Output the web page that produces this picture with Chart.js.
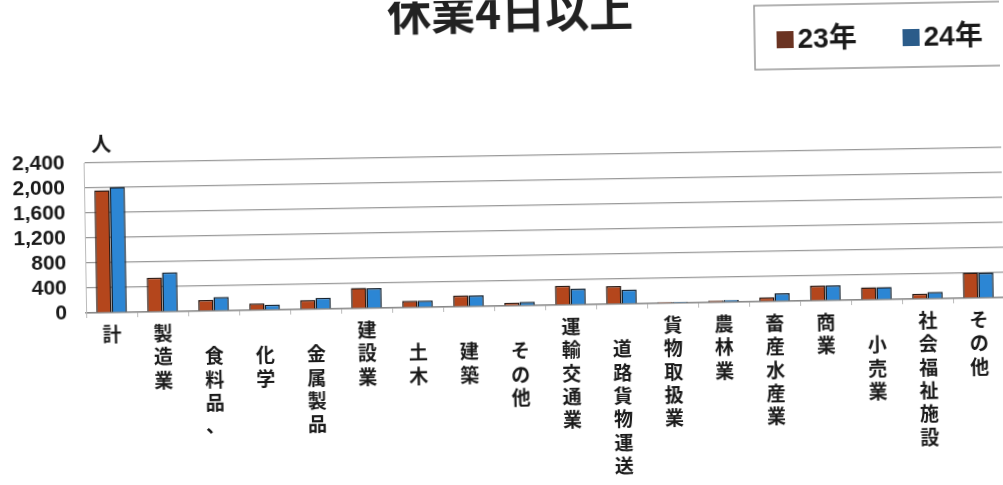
<!DOCTYPE html>
<html>
<head>
<meta charset="utf-8">
<script src="https://cdn.jsdelivr.net/npm/chart.js@4.4.1/dist/chart.umd.min.js"></script>
<style>
  html, body { margin: 0; padding: 0; background: #fff; overflow: hidden; }
  #chart { display: block; transform: rotate(-0.97deg); transform-origin: 50% 50%; }
</style>
</head>
<body>
<canvas id="chart" width="1003" height="485"></canvas>
<script>
// data
var categories = ['計', '製造業', '食料品、', '化学', '金属製品', '建設業', '土木', '建築', 'その他',
    '運輸交通業', '道路貨物運送', '貨物取扱業', '農林業', '畜産水産業', '商業', '小売業', '社会福祉施設', 'その他'];
// sub items (indented one line down in the original)
var subItems = [2, 3, 4, 6, 7, 8, 10, 15];
var y23 = [1960, 550, 175, 110, 150, 330, 110, 180, 50, 310, 290, 20, 30, 70, 240, 200, 85, 410];
var y24 = [2010, 630, 220, 85, 180, 320, 110, 175, 60, 255, 230, 20, 35, 130, 240, 200, 110, 400];
var yTicks = [0, 400, 800, 1200, 1600, 2000, 2400];

// vertical labels: one char per line
var labels = categories.map(function (c, i) {
    var chars = Array.from(c);
    return subItems.indexOf(i) >= 0 ? [''].concat(chars) : chars;
});

var decor = {
    id: 'decor',
    afterDraw: function (chart) {
        var ctx = chart.ctx;
        ctx.save();
        // title (top is cut off in the scan)
        ctx.fillStyle = '#222';
        ctx.font = 'bold 44px "Noto Sans CJK JP"';
        ctx.textAlign = 'center';
        ctx.textBaseline = 'alphabetic';
        ctx.fillText('休業4日以上', 514, 29);

        // legend box
        ctx.strokeStyle = '#999';
        ctx.lineWidth = 1.5;
        ctx.strokeRect(758, 10, 270, 64);
        ctx.fillStyle = '#6a3322';
        ctx.fillRect(780, 36, 17, 17);
        ctx.fillStyle = '#2b5c8a';
        ctx.fillRect(906, 36, 17, 17);
        ctx.fillStyle = '#1a1a1a';
        ctx.font = 'bold 28px "Liberation Sans", "Noto Sans CJK JP"';
        ctx.textAlign = 'left';
        ctx.textBaseline = 'middle';
        ctx.fillText('23年', 801, 45);
        ctx.fillText('24年', 927, 45);

        // unit
        ctx.font = 'bold 20px "Noto Sans CJK JP"';
        ctx.textAlign = 'center';
        ctx.fillText('人', 103, 137);
        ctx.restore();
    }
};

new Chart(document.getElementById('chart'), {
    type: 'bar',
    data: {
        labels: labels,
        datasets: [
            {
                label: '23年',
                data: y23,
                backgroundColor: '#b4461c',
                borderColor: '#2a1a14',
                borderWidth: 1.5
            },
            {
                label: '24年',
                data: y24,
                backgroundColor: '#2c86d4',
                borderColor: '#14202c',
                borderWidth: 1.5
            }
        ]
    },
    options: {
        responsive: false,
        animation: false,
        layout: { padding: { top: 156, left: 0, right: 0, bottom: 0 } },
        datasets: { bar: { categoryPercentage: 0.6, barPercentage: 1.0 } },
        plugins: {
            legend: { display: false },
            title: { display: false },
            tooltip: { enabled: false }
        },
        scales: {
            x: {
                offset: true,
                grid: {
                    offset: true,
                    drawOnChartArea: false,
                    drawTicks: true,
                    tickLength: 5,
                    color: '#bbb'
                },
                border: { color: '#888', width: 1.5 },
                ticks: {
                    maxRotation: 0,
                    minRotation: 0,
                    autoSkip: false,
                    padding: 5,
                    color: '#1a1a1a',
                    font: { family: '"Noto Sans CJK JP"', size: 19, weight: 'bold', lineHeight: 1.23 }
                },
                afterFit: function (s) { s.height = 179; }
            },
            y: {
                min: 0,
                max: 2400,
                afterBuildTicks: function (s) {
                    s.ticks = yTicks.map(function (v) { return { value: v }; });
                },
                grid: { color: '#999', lineWidth: 1.2, drawTicks: false },
                border: { color: '#bbb' },
                ticks: {
                    autoSkip: false,
                    padding: 19,
                    color: '#1a1a1a',
                    font: { family: '"Liberation Sans"', size: 21, weight: 'bold' },
                    callback: function (v) { return v.toLocaleString('en-US'); }
                },
                afterFit: function (s) { s.width = 85; }
            }
        }
    },
    plugins: [decor]
});
</script>
</body>
</html>
